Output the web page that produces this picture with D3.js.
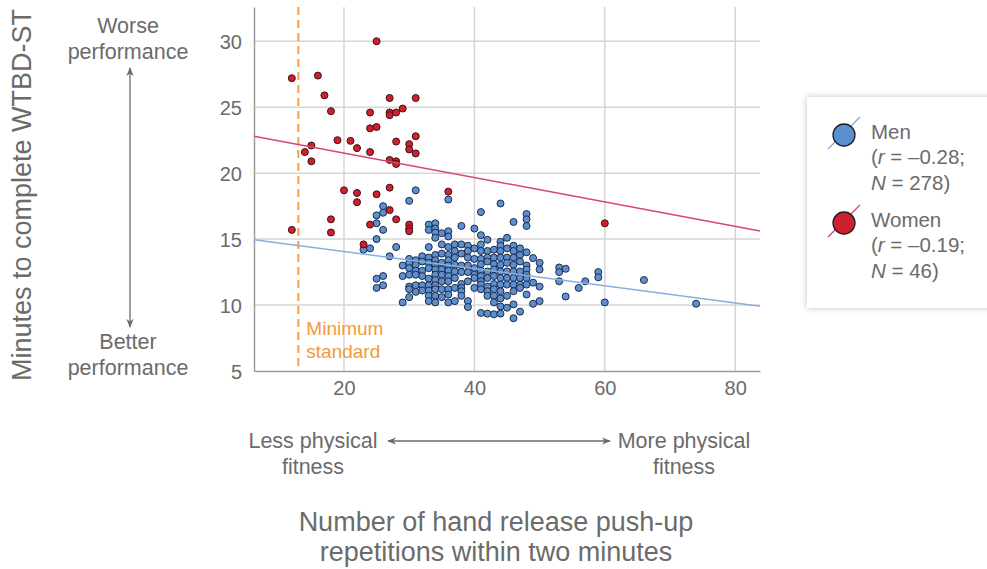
<!DOCTYPE html>
<html>
<head>
<meta charset="utf-8">
<script src="https://cdn.jsdelivr.net/npm/d3@7"></script>
<style>
  body { margin: 0; background: #fff; }
  text { font-family: "Liberation Sans", Arial, sans-serif; fill: #6b6b6b; }
</style>
</head>
<body>
<div id="chart"></div>
<script>
var width = 987, height = 569;

// axis ticks
var xTicks = [20, 40, 60, 80];
var yTicks = [5, 10, 15, 20, 25, 30];
var minStandard = 13; // minimum push-up standard

// women: [reps, minutes]
var women = [
  [25, 30.0], [12, 27.2], [16, 27.4], [17, 25.9], [18, 24.7], [19, 22.5], [21, 22.45],
  [22, 21.9], [15, 22.1], [14, 21.6], [15, 20.9], [24, 24.6], [24, 23.4], [25, 23.5],
  [24, 21.6], [27, 25.7], [31, 25.7], [27, 24.6], [27, 24.4], [28, 24.6], [29, 24.9],
  [31, 22.8], [28, 22.4], [30, 22.2], [30, 21.8], [31, 21.5], [27, 21.0], [28, 20.9],
  [28, 20.7], [20, 18.7], [22, 18.5], [22, 17.8], [25, 18.4], [27, 18.9], [12, 15.7],
  [18, 16.5], [18, 15.5], [24, 16.1], [27, 17.2], [28, 16.5], [30, 16.1], [30, 15.8],
  [30, 15.6], [23, 14.6], [36, 18.6], [60, 16.2]
];

// men: reps -> list of minutes at that rep count
var men = [
  [23, [14.2]],
  [24, [14.3]],
  [25, [16.8, 16.2, 15.0, 12.0, 11.3]],
  [26, [17.5, 17.0, 15.7, 12.2, 11.5]],
  [27, [13.7]],
  [28, [14.4]],
  [29, [13.0, 12.2, 10.2]],
  [30, [17.9, 13.5, 13.2, 12.8, 12.3, 11.4, 11.2, 10.6]],
  [31, [18.7, 13.4, 13.05, 12.6, 12.3, 11.5, 11.0]],
  [32, [13.7, 13.3, 12.6, 12.2, 11.5, 11.1]],
  [33, [16.1, 15.7, 14.4, 13.6, 13.2, 12.8, 12.0, 11.5, 11.1, 10.7, 10.3]],
  [34, [16.2, 15.8, 15.5, 15.1, 13.8, 13.4, 13.05, 12.7, 12.3, 11.9, 11.5, 11.2, 10.7, 10.2]],
  [35, [15.45, 14.6, 13.9, 13.2, 12.7, 12.3, 11.8, 11.2, 10.6]],
  [36, [18.0, 15.6, 15.2, 14.4, 13.8, 13.4, 13.0, 12.6, 12.2, 11.8, 11.2, 10.8, 10.2]],
  [37, [14.6, 14.1, 13.6, 13.05, 12.55, 12.05, 11.3, 10.3]],
  [38, [16.0, 14.6, 13.9, 13.0, 12.5, 11.6, 11.3, 11.05, 10.7]],
  [39, [14.5, 14.1, 13.6, 13.0, 12.5, 11.8, 10.3, 9.85]],
  [40, [15.8, 14.3, 13.5, 12.8, 12.3, 12.05, 11.3]],
  [41, [17.05, 15.3, 14.6, 14.1, 13.5, 13.1, 12.6, 12.2, 11.8, 11.55, 11.2, 9.4]],
  [42, [14.95, 14.1, 13.6, 13.3, 12.55, 12.05, 11.4, 11.05, 10.7, 9.35]],
  [43, [14.2, 13.6, 13.1, 12.7, 12.2, 11.6, 11.2, 10.7, 10.2, 9.3]],
  [44, [17.7, 14.8, 14.5, 14.1, 13.6, 13.05, 12.55, 12.05, 11.55, 11.05, 10.5, 9.9, 9.35]],
  [45, [15.1, 14.3, 13.6, 13.2, 12.55, 12.05, 11.55, 10.7, 9.8]],
  [46, [16.3, 14.5, 14.1, 13.6, 13.05, 12.55, 12.05, 11.55, 11.05, 10.05, 9.0]],
  [47, [14.3, 13.8, 13.3, 12.55, 12.05, 11.55, 11.3, 9.5]],
  [48, [16.9, 16.5, 16.0, 14.0, 13.0, 12.7, 12.3, 12.05, 11.55, 10.8]],
  [49, [13.56, 11.7, 10.1]],
  [50, [13.2, 12.7, 11.4, 10.3]],
  [53, [12.85, 12.5, 11.8]],
  [54, [12.75, 10.65]],
  [56, [11.3]],
  [57, [11.8]],
  [59, [12.5, 12.1]],
  [60, [10.2]],
  [66, [11.9]],
  [74, [10.1]]
];

// regression fits (minutes = intercept + slope * reps)
var menFit = [15.36, -0.065];
var womenFit = [23.38, -0.0927];

var legendItems = [
  { name: "Men", r: "\u20130.28", n: 278, fill: "#5b8fd1", line: "#7fa8dc" },
  { name: "Women", r: "\u20130.19", n: 46, fill: "#d0202f", line: "#d8456e" }
];

var x = d3.scaleLinear().domain([6.2, 83.8]).range([254, 760]);
var y = d3.scaleLinear().domain([5, 32.6]).range([371, 7]);

var svg = d3.select("#chart").append("svg")
  .attr("width", width).attr("height", height);

var defs = svg.append("defs");
var m = defs.append("marker").attr("id", "ah")
  .attr("viewBox", "0 0 10 10").attr("refX", 9).attr("refY", 5)
  .attr("markerWidth", 9).attr("markerHeight", 9).attr("orient", "auto-start-reverse")
  .attr("markerUnits", "userSpaceOnUse");
m.append("path").attr("d", "M0,1 L10,5 L0,9 L3,5 Z").attr("fill", "#6b6b6b");
var f = defs.append("filter").attr("id", "shadow").attr("x", "-20%").attr("y", "-20%")
  .attr("width", "140%").attr("height", "140%");
f.append("feDropShadow").attr("dx", 0).attr("dy", 0).attr("stdDeviation", 3)
  .attr("flood-color", "#000").attr("flood-opacity", 0.25);

// grid
svg.append("g").selectAll("line").data(yTicks.filter(function(d) { return d > 5; }))
  .enter().append("line")
  .attr("x1", x.range()[0]).attr("x2", x.range()[1])
  .attr("y1", function(d) { return y(d); }).attr("y2", function(d) { return y(d); })
  .attr("stroke", "#d6d6d6").attr("stroke-width", 1.5);
svg.append("g").selectAll("line").data(xTicks)
  .enter().append("line")
  .attr("x1", function(d) { return x(d); }).attr("x2", function(d) { return x(d); })
  .attr("y1", y.range()[1]).attr("y2", y.range()[0])
  .attr("stroke", "#d6d6d6").attr("stroke-width", 1.5);

// axes
var yAxis = svg.append("g").attr("transform", "translate(" + x.range()[0] + ",0)")
  .call(d3.axisLeft(y).tickValues(yTicks).tickSize(0).tickPadding(12));
var xAxis = svg.append("g").attr("transform", "translate(0," + y.range()[0] + ")")
  .call(d3.axisBottom(x).tickValues(xTicks).tickSize(0).tickPadding(10));
[yAxis, xAxis].forEach(function(a) {
  a.select(".domain").attr("stroke", "#9a9a9a").attr("stroke-width", 1.5);
  a.selectAll("text").style("font-size", "20px").attr("fill", "#6b6b6b")
    .style("font-family", "'Liberation Sans', Arial, sans-serif");
});
yAxis.selectAll(".tick text").attr("dy", "0.35em");

// minimum standard
svg.append("line")
  .attr("x1", x(minStandard)).attr("x2", x(minStandard))
  .attr("y1", y.range()[1]).attr("y2", y.range()[0])
  .attr("stroke", "#f5a049").attr("stroke-width", 2).attr("stroke-dasharray", "8,5");
svg.append("text").attr("x", x(minStandard) + 8).attr("y", 335)
  .style("font-size", "19px").style("fill", "#f39a3a").text("Minimum");
svg.append("text").attr("x", x(minStandard) + 8).attr("y", 358)
  .style("font-size", "19px").style("fill", "#f39a3a").text("standard");

// men points
var menPts = [];
men.forEach(function(c) { c[1].forEach(function(v) { menPts.push([c[0], v]); }); });

svg.append("g").selectAll("circle").data(menPts).enter().append("circle")
  .attr("cx", function(d) { return x(d[0]); }).attr("cy", function(d) { return y(d[1]); })
  .attr("r", 3.5).attr("fill", "#5b8fd1").attr("stroke", "#1e2b45").attr("stroke-width", 1);

// regression lines
function fitLine(fit, color) {
  var d0 = x.domain()[0], d1 = x.domain()[1];
  svg.append("line")
    .attr("x1", x(d0)).attr("y1", y(fit[0] + fit[1] * d0))
    .attr("x2", x(d1)).attr("y2", y(fit[0] + fit[1] * d1))
    .attr("stroke", color).attr("stroke-width", 1.5);
}
fitLine(menFit, "#86afe0");

svg.append("g").selectAll("circle").data(women).enter().append("circle")
  .attr("cx", function(d) { return x(d[0]); }).attr("cy", function(d) { return y(d[1]); })
  .attr("r", 3.5).attr("fill", "#d0202f").attr("stroke", "#3b1212").attr("stroke-width", 1);
fitLine(womenFit, "#d8456e");

// y title + annotations
svg.append("text").attr("transform", "translate(31,195) rotate(-90)")
  .attr("text-anchor", "middle").style("font-size", "27px")
  .text("Minutes to complete WTBD-ST");

function label(cx, lines, y0, size) {
  var t = svg.append("text").attr("text-anchor", "middle").style("font-size", size + "px");
  lines.forEach(function(s, i) {
    t.append("tspan").attr("x", cx).attr("y", y0 + i * 26).text(s);
  });
}
label(128, ["Worse", "performance"], 33, 21.5);
label(128, ["Better", "performance"], 349, 21.5);
svg.append("line").attr("x1", 130).attr("x2", 130).attr("y1", 68).attr("y2", 327)
  .attr("stroke", "#6b6b6b").attr("stroke-width", 1.3)
  .attr("marker-start", "url(#ah)").attr("marker-end", "url(#ah)");

label(313, ["Less physical", "fitness"], 448, 21.5);
label(684, ["More physical", "fitness"], 448, 21.5);
svg.append("line").attr("x1", 388).attr("x2", 610).attr("y1", 441).attr("y2", 441)
  .attr("stroke", "#6b6b6b").attr("stroke-width", 1.3)
  .attr("marker-start", "url(#ah)").attr("marker-end", "url(#ah)");

var xt = svg.append("text").attr("text-anchor", "middle").style("font-size", "27px");
xt.append("tspan").attr("x", 496).attr("y", 531).text("Number of hand release push-up");
xt.append("tspan").attr("x", 496).attr("y", 561).text("repetitions within two minutes");

// legend
svg.append("rect").attr("x", 807).attr("y", 97).attr("width", 190).attr("height", 211)
  .attr("fill", "#fff").attr("filter", "url(#shadow)");

var lg = svg.append("g").selectAll("g").data(legendItems).enter().append("g")
  .attr("transform", function(d, i) { return "translate(844," + (135 + i * 88) + ")"; });
lg.append("line").attr("x1", -16).attr("y1", 14).attr("x2", 16).attr("y2", -18)
  .attr("stroke", function(d) { return d.line; }).attr("stroke-width", 1.3);
lg.append("circle").attr("r", 11)
  .attr("fill", function(d) { return d.fill; }).attr("stroke", "#1e1e1e").attr("stroke-width", 1.3);
var lt = lg.append("text").style("font-size", "20.5px");
lt.append("tspan").attr("x", 27).attr("y", 4).text(function(d) { return d.name; });
var l2 = lt.append("tspan").attr("x", 27).attr("y", 29);
l2.append("tspan").text("(");
l2.append("tspan").style("font-style", "italic").text("r");
l2.append("tspan").text(function(d) { return " = " + d.r + ";"; });
var l3 = lt.append("tspan").attr("x", 27).attr("y", 55);
l3.append("tspan").style("font-style", "italic").text("N");
l3.append("tspan").text(function(d) { return " = " + d.n + ")"; });
</script>
</body>
</html>
